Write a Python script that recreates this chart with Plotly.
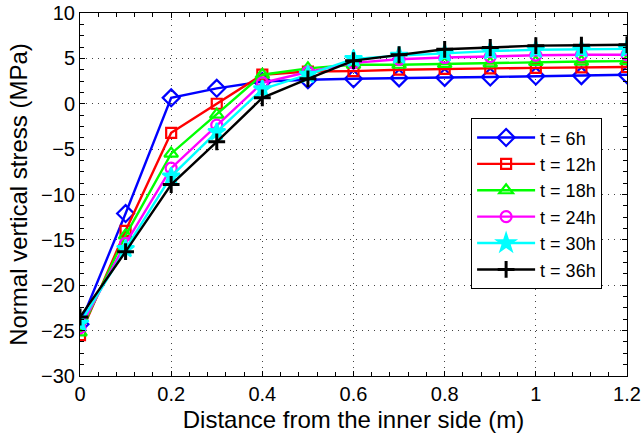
import plotly.graph_objects as go

distance = [0, 0.1, 0.2, 0.3, 0.4, 0.5, 0.6, 0.7, 0.8, 0.9, 1.0, 1.1, 1.2]
t6 = [-24.3, -12.1, 0.65, 1.7, 2.45, 2.65, 2.75, 2.85, 2.9, 2.95, 3.05, 3.1, 3.2]
t12 = [-25.5, -14.0, -3.2, 0.0, 3.2, 3.55, 3.6, 3.75, 3.85, 3.9, 3.95, 4.0, 4.05]
t18 = [-25.2, -14.5, -5.5, -1.2, 3.2, 3.9, 4.3, 4.3, 4.4, 4.45, 4.6, 4.65, 4.7]
t24 = [-24.7, -15.4, -7.1, -2.35, 2.3, 3.5, 4.5, 4.9, 5.1, 5.2, 5.35, 5.4, 5.4]
t30 = [-24.2, -16.0, -8.0, -3.1, 1.6, 3.2, 4.95, 5.3, 5.55, 5.8, 5.95, 6.0, 6.05]
t36 = [-23.5, -16.3, -8.9, -4.2, 0.65, 2.75, 4.75, 5.4, 6.0, 6.2, 6.4, 6.45, 6.5]

series = [
    ("t = 6h", t6, "#0000FF", "diamond-open", 13),
    ("t = 12h", t12, "#FF0000", "square-open", 10),
    ("t = 18h", t18, "#00FF00", "triangle-up-open", 12),
    ("t = 24h", t24, "#FF00FF", "circle-open", 11),
    ("t = 30h", t30, "#00FFFF", "star", 13),
    ("t = 36h", t36, "#000000", "cross-thin", 12),
]

FONT = "Liberation Sans, Arial, sans-serif"

fig = go.Figure()
for name, ys, color, sym, size in series:
    fig.add_trace(go.Scatter(
        x=distance, y=ys, name=name, mode="lines+markers",
        line=dict(color=color, width=2.4),
        marker=dict(symbol=sym, size=size, color=color,
                    line=dict(color=color, width=2.2 if sym != "cross-thin" else 3)),
    ))

axis_common = dict(
    showline=True, linecolor="black", linewidth=1, mirror="ticks",
    ticks="inside", ticklen=5, tickcolor="black", tickwidth=1,
    showgrid=True, gridcolor="#444444", griddash="1px,5px", gridwidth=1,
    zeroline=False, automargin=False,
    tickfont=dict(family=FONT, size=20, color="black"),
)

fig.update_xaxes(
    range=[0, 1.2], dtick=0.2, tick0=0,
    minor=dict(ticks="inside", dtick=0.04, ticklen=4, tickcolor="black", showgrid=False),
    title=dict(text="Distance from the inner side (m)",
               font=dict(family=FONT, size=24, color="black"), standoff=7),
    **axis_common,
)
fig.update_yaxes(
    range=[-30, 10], dtick=5, tick0=0,
    minor=dict(ticks="inside", dtick=1.25, ticklen=4, tickcolor="black", showgrid=False),
    title=dict(text="Normal vertical stress (MPa)",
               font=dict(family=FONT, size=24, color="black"), standoff=6),
    **axis_common,
)

fig.update_layout(
    width=643, height=439,
    margin=dict(l=80, r=16, t=13, b=63),
    plot_bgcolor="white", paper_bgcolor="white",
    font=dict(family=FONT, color="black"),
    legend=dict(
        x=0.715, y=0.71, xanchor="left", yanchor="top",
        bgcolor="white", bordercolor="black", borderwidth=1,
        font=dict(family=FONT, size=18, color="black"),
        itemwidth=58, tracegroupgap=0,
    ),
)

fig.write_html("out.html")
